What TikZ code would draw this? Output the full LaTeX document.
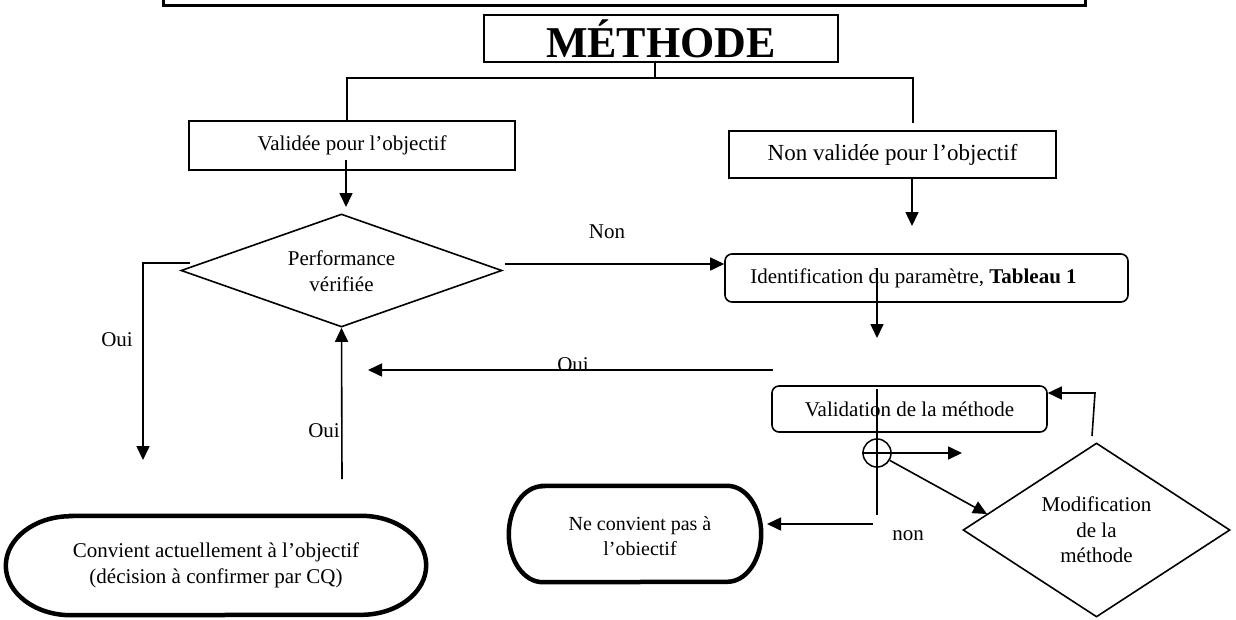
\documentclass[tikz,border=0pt]{standalone}
\usepackage{fontspec}
\setmainfont{Liberation Serif}
\usetikzlibrary{arrows.meta,shapes.geometric}
\newcommand\termshape[3]{%
  \draw[line width=4.5pt] ([xshift=#2pt]#1.north west) -- ([xshift=-#2pt]#1.north east)
    arc[start angle=90,end angle=-90,x radius=#2pt,y radius=#3pt]
    -- ([xshift=#2pt]#1.south west)
    arc[start angle=270,end angle=90,x radius=#2pt,y radius=#3pt] -- cycle;}
\newcommand\twolines[3]{\raisebox{#1}[0pt][0pt]{\begin{tabular}{@{}c@{}}#2\\#3\end{tabular}}}
\begin{document}
\begin{tikzpicture}[x=1pt,y=-1pt,
  base/.style={font=\fontsize{21}{25.5}\selectfont, inner sep=0pt, align=center},
  sqbox/.style={base, draw, line width=1.6pt, rectangle},
  rbox/.style={sqbox, rounded corners=7pt},
  dia/.style={base, draw, line width=1.6pt, diamond},
  lnk/.style={line width=1.6pt},
  arr/.style={lnk, -{Triangle[length=14pt,width=13pt]}},
  lbl/.style={base}]
\useasboundingbox (0,0) rectangle (1236,619);

% cut-off top box
\draw[line width=3pt] (163,-6) -- (163,5) -- (1085,5) -- (1085,-6);

% nodes
\node[sqbox, line width=2pt, minimum width=354pt, minimum height=47pt,
      font=\fontsize{44}{48}\selectfont\bfseries] (M) at (661,38.5) {MÉTHODE};
\node[sqbox, minimum width=326pt, minimum height=49pt] (V) at (352,145.5) {Validée pour l’objectif};
\node[sqbox, minimum width=327pt, minimum height=47pt, font=\fontsize{23}{27}\selectfont] (NV) at (892.5,154.5) {Non validée pour l’objectif};
\node[dia, aspect=2.8, minimum width=321pt, minimum height=113pt] (P) at (341.5,270.5) {\twolines{-8pt}{Performance}{vérifiée}};
\node[rbox, minimum width=403pt, minimum height=48pt] (I) at (926.5,278) {\hspace*{-26pt}Identification du paramètre, \textbf{Tableau 1}};
\node[rbox, minimum width=275pt, minimum height=46pt] (VM) at (909.5,409) {Validation de la méthode};
\node[draw, circle, line width=1.5pt, minimum size=28pt, inner sep=0pt] (C) at (877,453) {};
\node[dia, aspect=1.5, minimum width=267pt, minimum height=174pt] (MD) at (1096.5,530) {Modification\\de la\\méthode};
\node[base, minimum width=420pt, minimum height=99pt] (T1) at (216,565.5) {Convient actuellement à l’objectif\\(décision à confirmer par CQ)};
\node[base, minimum width=252pt, minimum height=96pt, font=\fontsize{20}{25}\selectfont] (T2) at (635,534) {\hspace*{10pt}\twolines{-9.5pt}{Ne convient pas à}{l’obiectif}};
\termshape{T1}{65}{49.5}
\termshape{T2}{34}{48}

% coordinates
\coordinate (j) at (655,78);
\coordinate (hl) at (347,78);
\coordinate (hr) at (913,78);
\coordinate (nvt) at (913,123);
\coordinate (vs) at (346,160);
\coordinate (ve) at (346,207);
\coordinate (nve) at (912,226);
\coordinate (pn) at (505,264);
\coordinate (is) at (877,268);
\coordinate (ie) at (877,338);
\coordinate (os) at (773,370);
\coordinate (oe) at (368,370);
\coordinate (pl) at (190,263);
\coordinate (plc) at (143,263);
\coordinate (ple) at (143,460);
\coordinate (us) at (342,479);
\coordinate (vt) at (877,389);
\coordinate (vb) at (877,515);
\coordinate (ce) at (962,453);
\coordinate (de) at (987,514);
\coordinate (ns) at (873,524);
\coordinate (ne) at (767,524);
\coordinate (mt) at (1092,436);
\coordinate (mc) at (1095,393);

% connectors
\draw[lnk] (M.south -| j) -- (j);
\draw[lnk] (V.north -| hl) -- (hl) -- (hr) -- (nvt);
\draw[arr] (vs) -- (ve);
\draw[arr] (NV.south -| nve) -- (nve);
\draw[arr] (pn) -- (pn -| I.west);
\draw[arr] (is) -- (ie);
\draw[arr] (os) -- (oe);
\draw[arr] (pl) -- (plc) -- (ple);
\draw[arr] (us) -- (P.south);
\draw[lnk] (vt) -- (vb);
\draw[lnk] (C.west) -- (C.east);
\draw[arr] (C.east) -- (ce);
\draw[arr] (C.-30) -- (de);
\draw[arr] (ns) -- (ne);
\draw[arr] (mt) -- (mc) -- (mc -| VM.east);

% labels
\node[lbl] (lnon) at (607,232) {Non};
\node[lbl] (loui1) at (117,340) {Oui};
\node[lbl] (loui2) at (324,431) {Oui};
\begin{scope}
\clip (530,340) rectangle (620,368.5);
\node[lbl, anchor=base] (loui3) at (573,371) {Oui};
\end{scope}
\node[lbl] (lnon2) at (908,536) {non};
\end{tikzpicture}
\end{document}
